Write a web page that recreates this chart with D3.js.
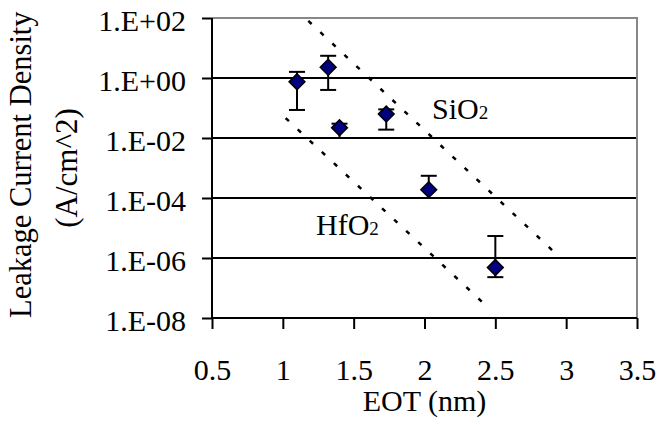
<!DOCTYPE html>
<html>
<head>
<meta charset="utf-8">
<script src="https://cdn.jsdelivr.net/npm/d3@7"></script>
<style>
  body { margin: 0; background: #fff; }
  text { font-family: "Liberation Serif", "Times New Roman", serif; fill: #000; }
</style>
</head>
<body>
<div class="chart"></div>
<script>
// measured points (EOT in nm, leakage in A/cm^2)
var eot = [1.1, 1.32, 1.4, 1.73, 2.03, 2.5];
var leakage = [0.75, 2.27, 0.022, 0.063, 1.9e-4, 4.8e-7];
var errHigh = [1.6, 5.5, 0.03, 0.09, 5.5e-4, 5.4e-6];
var errLow = [0.086, 0.4, 0.01, 0.019, 1.0e-4, 2.3e-7];

// dotted reference lines
var sio2Line = [[1.18, 80], [2.96, 1e-6]];
var hfo2Line = [[1.02, 0.046], [2.46, 2e-8]];

var xTicks = [0.5, 1, 1.5, 2, 2.5, 3, 3.5];
var xTickLabels = ["0.5", "1", "1.5", "2", "2.5", "3", "3.5"];
var yTicks = [1e2, 1e0, 1e-2, 1e-4, 1e-6, 1e-8];
var yTickLabels = ["1.E+02", "1.E+00", "1.E-02", "1.E-04", "1.E-06", "1.E-08"];

var width = 657, height = 425;
var margin = {top: 18, right: 20, bottom: 107, left: 212};
var w = width - margin.left - margin.right,
    h = height - margin.top - margin.bottom;

var svg = d3.select('.chart').append("svg")
  .attr("width", width)
  .attr("height", height);

var g = svg.append("g")
  .attr("transform", "translate(" + margin.left + "," + margin.top + ")");

// scales
var x = d3.scaleLinear().domain([0.5, 3.5]).range([0, w]);
var y = d3.scaleLog().domain([1e-8, 1e2]).range([h, 0]);

// gridlines
g.selectAll(".grid")
  .data(yTicks.slice(1, 5))
  .enter().append("line")
  .attr("x1", 0).attr("x2", w)
  .attr("y1", function(d) { return y(d); })
  .attr("y2", function(d) { return y(d); })
  .attr("stroke", "#000")
  .attr("stroke-width", 2);

// plot border top / right (grey)
g.append("path")
  .attr("d", "M0," + y(1e2) + "H" + w + "V" + h)
  .attr("fill", "none")
  .attr("stroke", "#888")
  .attr("stroke-width", 2);

// y axis
var yAxis = g.append("g")
  .call(d3.axisLeft(y).tickValues(yTicks).tickSize(10)
    .tickFormat(function(d, i) { return yTickLabels[i]; }));
yAxis.select(".domain").attr("d", "M0," + y(1e2) + "V" + h).attr("stroke-width", 2);
yAxis.selectAll(".tick line").attr("stroke-width", 2);
yAxis.selectAll(".tick text")
  .attr("x", -26)
  .attr("dy", "0.42em")
  .attr("font-size", 30)
  .attr("font-family", "Liberation Serif");

// x axis
var xAxis = g.append("g")
  .attr("transform", "translate(0," + h + ")")
  .call(d3.axisBottom(x).tickValues(xTicks).tickSize(11)
    .tickFormat(function(d, i) { return xTickLabels[i]; }));
xAxis.select(".domain").attr("d", "M0,0H" + w).attr("stroke-width", 2);
xAxis.selectAll(".tick line").attr("stroke-width", 2);
xAxis.selectAll(".tick text")
  .attr("y", 62)
  .attr("dy", 0)
  .attr("font-size", 30)
  .attr("font-family", "Liberation Serif");

// dotted lines
var line = d3.line()
  .x(function(d) { return x(d[0]); })
  .y(function(d) { return y(d[1]); });

g.selectAll(".ref")
  .data([sio2Line, hfo2Line])
  .enter().append("path")
  .attr("d", line)
  .attr("fill", "none")
  .attr("stroke", "#000")
  .attr("stroke-width", 2.5)
  .attr("stroke-dasharray", "4.5,12");

// error bars
var pts = eot.map(function(v, i) {
  return {x: v, y: leakage[i], hi: errHigh[i], lo: errLow[i]};
});

var err = g.selectAll(".err").data(pts).enter().append("g");
err.append("line")
  .attr("x1", function(d) { return x(d.x); })
  .attr("x2", function(d) { return x(d.x); })
  .attr("y1", function(d) { return y(d.hi); })
  .attr("y2", function(d) { return y(d.lo); })
  .attr("stroke", "#000").attr("stroke-width", 2);
err.append("line")
  .attr("x1", function(d) { return x(d.x) - 8; })
  .attr("x2", function(d) { return x(d.x) + 8; })
  .attr("y1", function(d) { return y(d.hi); })
  .attr("y2", function(d) { return y(d.hi); })
  .attr("stroke", "#000").attr("stroke-width", 2);
err.append("line")
  .attr("x1", function(d) { return x(d.x) - 8; })
  .attr("x2", function(d) { return x(d.x) + 8; })
  .attr("y1", function(d) { return y(d.lo); })
  .attr("y2", function(d) { return y(d.lo); })
  .attr("stroke", "#000").attr("stroke-width", 2);

// diamond markers
g.selectAll(".pt")
  .data(pts)
  .enter().append("path")
  .attr("d", d3.symbol(d3.symbolSquare, 125))
  .attr("transform", function(d) {
    return "translate(" + x(d.x) + "," + y(d.y) + ") rotate(45)";
  })
  .attr("fill", "#000080")
  .attr("stroke", "#000")
  .attr("stroke-width", 1.5);

// line labels
var sio2 = g.append("text")
  .attr("x", 220).attr("y", 101)
  .attr("font-size", 30);
sio2.append("tspan").text("SiO");
sio2.append("tspan").attr("font-size", 19).text("2");

var hfo2 = g.append("text")
  .attr("x", 104).attr("y", 217)
  .attr("font-size", 30);
hfo2.append("tspan").text("HfO");
hfo2.append("tspan").attr("font-size", 19).text("2");

// axis titles
svg.append("text")
  .attr("x", margin.left + w / 2)
  .attr("y", 411)
  .attr("text-anchor", "middle")
  .attr("font-size", 30)
  .text("EOT (nm)");

svg.append("text")
  .attr("transform", "translate(31,318) rotate(-90)")
  .attr("font-size", 30.5)
  .text("Leakage Current Density");
svg.append("text")
  .attr("transform", "translate(77,168) rotate(-90)")
  .attr("text-anchor", "middle")
  .attr("font-size", 31)
  .text("(A/cm^2)");
</script>
</body>
</html>
